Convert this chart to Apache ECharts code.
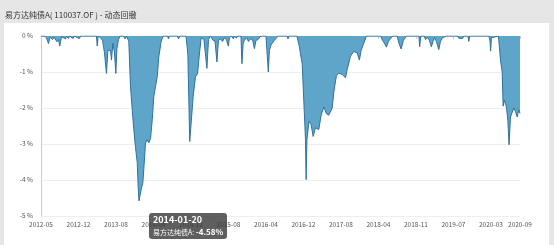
<!DOCTYPE html>
<html><head><meta charset="utf-8">
<script src="https://cdn.jsdelivr.net/npm/echarts@6/dist/echarts.min.js"></script>
<style>
html,body{margin:0;padding:0;background:#e6e6e6;width:554px;height:245px;overflow:hidden;}
#panel{position:absolute;left:4px;top:23px;width:545px;height:222px;background:#fff;}
#chart{position:absolute;left:0;top:0;width:554px;height:245px;}
</style></head><body>
<div id="panel"></div><div id="chart"></div>
<script>
const seriesName = '易方达纯债A';
const titleText = '易方达纯债A( 110037.OF ) - 动态回撤';
const startDate = '2012-05-03';
const endDate = '2020-09-24';
const labelStep = 240;
const yTicks = [0, -1, -2, -3, -4, -5];
const tipDate = '2014-01-20';

const ddDates = [
'2012-05-03','2012-05-25','2012-06-07','2012-06-20','2012-06-30','2012-07-16','2012-07-25','2012-08-13','2012-08-23','2012-08-31',
'2012-09-11','2012-09-21','2012-10-07','2012-10-13','2012-10-26','2012-11-01','2012-11-25','2012-12-01','2013-01-04','2013-01-11',
'2013-04-23','2013-04-28','2013-05-04','2013-05-19','2013-06-01','2013-06-07','2013-06-13','2013-06-26','2013-07-05','2013-07-12',
'2013-07-22','2013-07-28','2013-08-06','2013-08-16','2013-08-25','2013-09-01','2013-09-11','2013-09-21','2013-10-13','2013-10-23',
'2013-11-01','2013-11-16','2013-11-27','2013-12-08','2013-12-18','2013-12-29','2014-01-09','2014-01-15','2014-01-20','2014-02-03',
'2014-02-14','2014-02-20','2014-03-03','2014-03-14','2014-03-24','2014-04-04','2014-04-15','2014-04-25','2014-05-06','2014-05-17',
'2014-05-27','2014-06-11','2014-06-24','2014-07-22','2014-07-28','2014-08-03','2014-09-24','2014-09-30','2014-10-10','2014-11-17',
'2014-11-29','2014-12-11','2014-12-22','2015-01-02','2015-01-17','2015-01-30','2015-02-11','2015-02-22','2015-02-27','2015-03-12',
'2015-03-22','2015-03-31','2015-04-10','2015-04-23','2015-05-09','2015-05-22','2015-06-03','2015-06-13','2015-06-26','2015-07-09',
'2015-07-21','2015-08-03','2015-08-15','2015-08-22','2015-09-04','2015-09-17','2015-09-23','2015-10-06','2015-10-13','2015-11-04',
'2015-11-10','2015-11-18','2015-11-26','2015-12-09','2015-12-22','2016-01-04','2016-01-17','2016-01-29','2016-02-08','2016-02-21',
'2016-03-05','2016-03-21','2016-04-12','2016-04-18','2016-04-27','2016-05-04','2016-05-14','2016-05-24','2016-06-05','2016-06-18',
'2016-07-01','2016-08-24','2016-08-31','2016-09-06','2016-10-27','2016-11-12','2016-11-19','2016-11-30','2016-12-10','2016-12-21',
'2016-12-25','2016-12-30','2017-01-12','2017-01-26','2017-02-08','2017-02-23','2017-03-16','2017-03-31','2017-04-17','2017-05-04',
'2017-05-19','2017-06-10','2017-06-20','2017-07-07','2017-07-22','2017-08-13','2017-09-03','2017-09-14','2017-10-05','2017-10-26',
'2017-11-17','2017-12-01','2017-12-12','2017-12-29','2018-01-15','2018-04-15','2018-04-28','2018-05-10','2018-05-23','2018-06-05',
'2018-06-21','2018-07-05','2018-07-31','2018-08-11','2018-08-25','2018-09-09','2018-09-28','2018-10-30','2018-11-04','2018-11-09',
'2018-12-17','2018-12-22','2018-12-29','2019-01-21','2019-01-28','2019-02-10','2019-02-22','2019-03-07','2019-03-17','2019-03-26',
'2019-04-08','2019-04-23','2019-05-04','2019-05-17','2019-05-29','2019-06-11','2019-08-21','2019-08-30','2019-09-09','2019-09-22',
'2019-10-01','2019-10-27','2019-11-01','2019-11-07','2019-12-14','2019-12-20','2019-12-27','2020-01-15','2020-01-21','2020-01-28',
'2020-03-09','2020-03-16','2020-03-20','2020-03-25','2020-04-01','2020-05-09','2020-05-15','2020-05-22','2020-05-28','2020-06-02',
'2020-06-08','2020-06-16','2020-06-29','2020-07-08','2020-07-16','2020-07-25','2020-08-03','2020-08-15','2020-08-26','2020-09-06',
'2020-09-16','2020-09-24'
];
const ddValues = [
0,0,-0.05,-0.21,-0.03,-0.10,-0.03,-0.16,-0.10,-0.28,
-0.02,0,-0.08,0,-0.07,0,-0.07,0,-0.07,0,
0,-0.28,0,-0.05,-0.12,-0.30,-0.45,-1.04,-0.40,-0.35,
-0.40,-0.67,-0.20,-0.45,-1.04,-0.35,-0.10,0,0,-0.08,
0,-0.15,-1.41,-2.05,-2.60,-3.10,-3.52,-4.20,-4.58,-4.27,
-4.07,-3.70,-2.97,-2.88,-2.97,-2.85,-2.33,-1.68,-1.40,-1.13,
-0.58,-0.15,0,0,-0.08,0,0,-0.08,0,0,
-0.50,-2.93,-2.93,-1.68,-1.13,-1.05,-0.50,-0.05,0,-0.10,
-0.08,-0.90,-0.10,0,-0.12,-0.15,-0.72,-0.12,-0.08,-0.15,
-0.05,-0.10,-0.28,-0.05,0,-0.08,0,-0.06,0,0,
-0.77,-0.20,-0.12,-0.05,-0.15,-0.08,-0.10,-0.35,-0.12,-0.10,
-0.02,0,0,-0.05,-1.00,-0.40,-0.25,-0.30,-0.12,-0.05,
0,0,-0.08,0,0,-0.30,-0.50,-0.78,-1.78,-2.88,
-3.99,-2.90,-2.37,-2.46,-2.79,-2.55,-2.60,-2.20,-1.97,-2.16,
-2.20,-2.00,-1.56,-1.10,-1.03,-1.07,-1.16,-0.93,-0.56,-0.43,
-0.47,-0.67,-0.40,-0.20,0,0,-0.12,-0.20,-0.31,-0.15,
-0.05,0,0,-0.20,-0.36,-0.12,0,0,-0.05,0,
0,-0.30,0,0,-0.10,-0.04,-0.12,-0.30,-0.15,-0.05,
-0.15,-0.38,-0.15,-0.05,-0.08,0,0,-0.06,-0.03,-0.07,
0,0,-0.15,0,0,-0.05,0,0,-0.05,0,
0,-0.15,-0.42,-0.05,0,0,-0.30,-0.67,-0.70,-1.00,
-1.95,-1.78,-1.97,-2.34,-3.02,-2.25,-2.30,-2.00,-2.10,-2.25,
-2.05,-2.15
];

function buildDays(a, b) {
  const out = [];
  let t = Date.parse(a + 'T00:00:00Z');
  const e = Date.parse(b + 'T00:00:00Z');
  while (t <= e) { out.push(new Date(t).toISOString().slice(0, 10)); t += 86400000; }
  return out;
}
const categories = buildDays(startDate, endDate);
const lastIdx = categories.length - 1;
const showLabel = (i) => i % labelStep === 0 || i === lastIdx;
const FONT = '"Noto Sans CJK SC", "Liberation Sans", sans-serif';

const chart = echarts.init(document.getElementById('chart'), null, {renderer: 'canvas'});
chart.setOption({
  animation: false,
  backgroundColor: 'transparent',
  title: {
    text: titleText, left: 0, top: 6,
    textStyle: {fontSize: 8, fontWeight: 'normal', color: '#333', fontFamily: FONT}
  },
  grid: {left: 41, right: 34, top: 36, bottom: 29},
  tooltip: {
    trigger: 'axis', triggerOn: 'none', alwaysShowContent: true,
    axisPointer: {type: 'none'},
    position: [149, 213],
    backgroundColor: 'rgba(60,60,60,0.82)', borderWidth: 0, borderRadius: 3,
    padding: [1, 4],
    textStyle: {color: '#fff', fontSize: 7, fontFamily: FONT},
    extraCssText: 'box-shadow:none;line-height:11px;',
    formatter: (ps) => {
      const p = ps[0];
      const v = Array.isArray(p.value) ? p.value[1] : p.value;
      return '<div style="font-size:9px;font-weight:bold;line-height:12px">' + p.axisValue + '</div>' +
             '<div style="font-size:7px;line-height:11px">' + p.seriesName + ': <b style="font-size:8px">' + v.toFixed(2) + '%</b></div>';
    }
  },
  xAxis: {
    type: 'category', data: categories, boundaryGap: false,
    axisLine: {show: true, lineStyle: {color: '#ccc'}},
    axisTick: {show: true, interval: showLabel, length: 3, lineStyle: {color: '#ccc'}},
    axisLabel: {interval: showLabel, formatter: (v) => v.slice(0, 7), fontSize: 6.5, color: '#555', margin: 5, fontFamily: FONT},
    splitLine: {show: false}
  },
  yAxis: {
    type: 'value', min: yTicks[yTicks.length - 1], max: yTicks[0], interval: 1,
    axisLine: {show: true, lineStyle: {color: '#ccc'}},
    axisTick: {show: false},
    axisLabel: {formatter: (v) => v + ' %', fontSize: 6.5, color: '#555', margin: 8, fontFamily: FONT},
    splitLine: {show: true, lineStyle: {color: '#eee'}}
  },
  series: [{
    type: 'line', name: seriesName,
    data: ddDates.map((d, i) => [d, ddValues[i]]),
    showSymbol: false, symbol: 'none',
    lineStyle: {color: '#2a6890', width: 1},
    areaStyle: {color: '#5796b8', opacity: 1}
  }]
});
chart.dispatchAction({type: 'showTip', seriesIndex: 0, dataIndex: ddDates.indexOf(tipDate)});
</script>
</body></html>
